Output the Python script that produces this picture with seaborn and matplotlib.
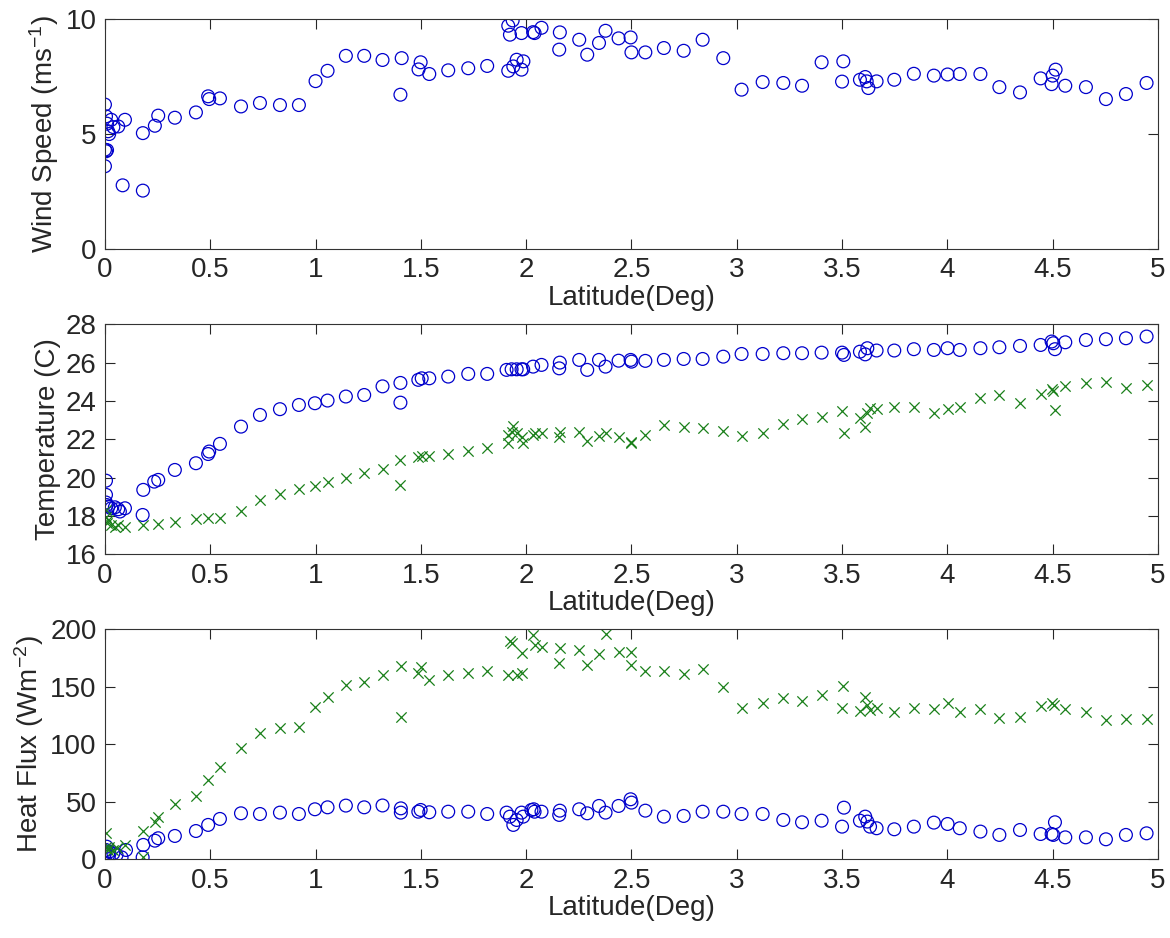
import numpy as np
import seaborn as sns
import matplotlib
matplotlib.use("Agg")
from matplotlib import pyplot as plt

# wind speed (circles)
wind_lat = [0.0, 0.005, 0.01, 0.015, 0.02, 0.03, 0.04, 0.063, 0.095, 0.0, 0.005, 0.01, 0.0,
            0.084, 0.18, 0.18, 0.237, 0.253, 0.332, 0.432, 0.49, 0.495, 0.546, 0.646, 0.736,
            0.831, 0.921, 1.0, 1.057, 1.144, 1.231, 1.318, 1.403, 1.409, 1.499, 1.489, 1.54,
            1.63, 1.725, 1.815, 1.936, 1.915, 1.923, 1.978, 2.033, 2.04, 2.073, 1.955, 1.987,
            1.939, 1.915, 1.978, 2.16, 2.157, 2.252, 2.29, 2.346, 2.377, 2.439, 2.496, 2.5,
            2.566, 2.654, 2.748, 2.838, 2.936, 3.023, 3.123, 3.221, 3.31, 3.403, 3.506, 3.5,
            3.585, 3.61, 3.617, 3.625, 3.664, 3.748, 3.841, 3.936, 4.001, 4.059, 4.157, 4.247,
            4.345, 4.443, 4.514, 4.5, 4.495, 4.56, 4.658, 4.753, 4.848, 4.946]
wind = [6.28, 5.77, 5.45, 5.12, 5.0, 5.62, 5.3, 5.33, 5.62, 4.32, 4.25, 4.3, 3.6,
        2.77, 2.54, 5.04, 5.36, 5.8, 5.71, 5.94, 6.64, 6.52, 6.55, 6.2, 6.35,
        6.26, 6.26, 7.3, 7.75, 8.4, 8.4, 8.22, 6.71, 8.3, 8.12, 7.81, 7.61,
        7.77, 7.86, 7.96, 9.94, 9.71, 9.32, 9.39, 9.43, 9.39, 9.62, 8.23, 8.16,
        7.94, 7.75, 7.8, 9.42, 8.67, 9.1, 8.45, 8.96, 9.49, 9.16, 9.2, 8.55,
        8.55, 8.74, 8.62, 9.1, 8.3, 6.93, 7.26, 7.22, 7.1, 8.12, 8.16, 7.28,
        7.36, 7.48, 7.29, 7.0, 7.29, 7.36, 7.62, 7.54, 7.59, 7.61, 7.61, 7.04,
        6.81, 7.42, 7.8, 7.54, 7.17, 7.1, 7.04, 6.52, 6.74, 7.22]

# temperature (circles)
temp_o_lat = [0.005, 0.005, 0.005, 0.008, 0.016, 0.03, 0.047, 0.063, 0.071, 0.095, 0.179, 0.182,
              0.234, 0.253, 0.332, 0.432, 0.49, 0.495, 0.546, 0.646, 0.736, 0.831, 0.921, 0.997,
              1.057, 1.144, 1.231, 1.318, 1.403, 1.403, 1.488, 1.504, 1.54, 1.63, 1.725, 1.815,
              1.907, 1.931, 1.955, 1.978, 1.986, 2.033, 2.073, 2.16, 2.157, 2.252, 2.29, 2.346,
              2.377, 2.439, 2.496, 2.5, 2.566, 2.654, 2.748, 2.838, 2.936, 3.023, 3.123, 3.221,
              3.31, 3.403, 3.5, 3.509, 3.585, 3.61, 3.62, 3.664, 3.748, 3.841, 3.936, 4.001,
              4.059, 4.157, 4.247, 4.345, 4.443, 4.495, 4.503, 4.511, 4.56, 4.658, 4.753, 4.848,
              4.946]
temp_o = [19.84, 19.1, 18.7, 18.57, 18.49, 18.4, 18.45, 18.35, 18.23, 18.4, 18.05, 19.36,
          19.79, 19.88, 20.4, 20.75, 21.23, 21.36, 21.76, 22.66, 23.27, 23.57, 23.79, 23.88,
          24.02, 24.23, 24.31, 24.76, 24.94, 23.91, 25.1, 25.18, 25.18, 25.27, 25.41, 25.41,
          25.62, 25.65, 25.65, 25.65, 25.65, 25.79, 25.88, 26.0, 25.7, 26.14, 25.62, 26.14,
          25.79, 26.1, 26.14, 26.05, 26.09, 26.14, 26.19, 26.19, 26.31, 26.45, 26.45, 26.49,
          26.49, 26.52, 26.52, 26.4, 26.57, 26.43, 26.75, 26.63, 26.63, 26.7, 26.66, 26.75,
          26.66, 26.75, 26.8, 26.87, 26.92, 27.1, 27.01, 26.7, 27.06, 27.18, 27.22, 27.27,
          27.36]

# temperature (crosses)
temp_x_lat = [0.005, 0.005, 0.008, 0.016, 0.03, 0.047, 0.063, 0.095, 0.179, 0.253, 0.332, 0.432,
              0.49, 0.546, 0.646, 0.736, 0.831, 0.921, 0.997, 1.057, 1.144, 1.231, 1.318, 1.403,
              1.403, 1.488, 1.504, 1.54, 1.63, 1.725, 1.815, 1.939, 1.931, 1.915, 1.955, 1.978,
              1.915, 1.986, 2.033, 2.04, 2.073, 2.16, 2.157, 2.252, 2.29, 2.346, 2.377, 2.439,
              2.496, 2.5, 2.566, 2.654, 2.748, 2.838, 2.936, 3.023, 3.123, 3.221, 3.31, 3.403,
              3.5, 3.509, 3.585, 3.61, 3.617, 3.633, 3.664, 3.748, 3.841, 3.936, 4.001, 4.059,
              4.157, 4.247, 4.345, 4.443, 4.495, 4.503, 4.511, 4.56, 4.658, 4.753, 4.848, 4.946]
temp_x = [18.31, 17.97, 17.62, 17.8, 17.53, 17.44, 17.53, 17.41, 17.53, 17.57, 17.67, 17.84,
          17.88, 17.88, 18.26, 18.83, 19.13, 19.39, 19.58, 19.76, 19.97, 20.23, 20.46, 20.94,
          19.62, 21.1, 21.15, 21.15, 21.23, 21.41, 21.53, 22.7, 22.4, 22.23, 22.35, 22.14,
          21.83, 21.83, 22.23, 22.31, 22.35, 22.4, 22.14, 22.4, 21.91, 22.17, 22.31, 22.14,
          21.88, 21.79, 22.23, 22.75, 22.66, 22.57, 22.45, 22.17, 22.35, 22.78, 23.04, 23.18,
          23.48, 22.31, 23.1, 22.66, 23.36, 23.62, 23.57, 23.7, 23.7, 23.36, 23.57, 23.7,
          24.14, 24.31, 23.88, 24.36, 24.61, 24.52, 23.53, 24.78, 24.92, 25.01, 24.7, 24.83]

# heat flux (circles)
flux_o_lat = [0.0, 0.005, 0.008, 0.016, 0.02, 0.04, 0.055, 0.079, 0.1, 0.179, 0.182, 0.237,
              0.253, 0.332, 0.432, 0.49, 0.546, 0.646, 0.736, 0.831, 0.921, 0.997, 1.057, 1.144,
              1.231, 1.318, 1.405, 1.405, 1.488, 1.499, 1.54, 1.63, 1.725, 1.815, 1.907, 1.923,
              1.939, 1.955, 1.978, 1.986, 2.025, 2.036, 2.04, 2.073, 2.16, 2.157, 2.252, 2.29,
              2.346, 2.377, 2.439, 2.496, 2.5, 2.566, 2.654, 2.748, 2.838, 2.936, 3.023, 3.123,
              3.221, 3.31, 3.403, 3.509, 3.5, 3.585, 3.61, 3.62, 3.633, 3.664, 3.748, 3.841,
              3.936, 4.001, 4.059, 4.157, 4.247, 4.345, 4.443, 4.495, 4.503, 4.511, 4.56, 4.658,
              4.753, 4.848, 4.946]
flux_o = [5.2, 8.1, 11, 3.8, 6.7, 5.2, 3.8, 1.7, 8.1, 1.7, 12.5, 16.2,
          18.3, 20.3, 24.6, 29.9, 35.1, 40, 39.4, 40.6, 39.4, 43.5, 45.2, 46.7,
          45.2, 46.8, 44.3, 40.6, 41.4, 42.9, 40.9, 41.4, 41.4, 39.4, 40.6, 37.1,
          29.9, 34.2, 40.6, 37.1, 42.9, 43.5, 41.4, 41.4, 42.3, 38.6, 43.5, 40,
          46.4, 40.6, 46.4, 52.2, 49.3, 42.3, 37.1, 37.7, 41.4, 41.4, 39.4, 39.4,
          34.2, 32.2, 33.6, 44.9, 28.4, 33.6, 37.1, 32.8, 28.4, 27, 26.1, 28.4,
          31.9, 30.7, 27, 24.1, 21.2, 25.5, 22, 22, 21.2, 32.2, 19.1, 19.1,
          17.4, 21.2, 22.6]

# heat flux (crosses)
flux_x_lat = [0.005, 0.005, 0.016, 0.02, 0.04, 0.055, 0.095, 0.179, 0.182, 0.237, 0.253, 0.332,
              0.432, 0.49, 0.546, 0.646, 0.736, 0.831, 0.921, 0.997, 1.057, 1.144, 1.231, 1.318,
              1.405, 1.405, 1.488, 1.499, 1.54, 1.63, 1.725, 1.815, 1.923, 1.931, 1.978, 1.915,
              1.955, 1.978, 2.033, 2.04, 2.073, 2.16, 2.157, 2.252, 2.29, 2.346, 2.377, 2.439,
              2.496, 2.5, 2.566, 2.654, 2.748, 2.838, 2.936, 3.023, 3.123, 3.221, 3.31, 3.403,
              3.506, 3.5, 3.585, 3.61, 3.62, 3.633, 3.664, 3.748, 3.841, 3.936, 4.001, 4.059,
              4.157, 4.247, 4.345, 4.443, 4.495, 4.506, 4.56, 4.658, 4.753, 4.848, 4.946]
flux_x = [22.6, 11, 8.1, 11, 8.1, 9.6, 12.5, 1.7, 24.9, 32.8, 37.1, 47.8,
          55.1, 69, 80.6, 97.1, 109.6, 114.5, 114.8, 132.8, 141.4, 151.6, 154.5, 160.3,
          168, 123.5, 162.3, 167.5, 155.9, 160.3, 162.3, 164.1, 190.1, 187.8, 179.1, 160.3,
          160.3, 161.7, 195.1, 186.4, 184.9, 183.5, 171, 182, 169, 178.6, 196, 180.6,
          180.6, 169, 164.1, 164.1, 161.2, 165.2, 150.1, 131.3, 136.2, 140, 138, 142.9,
          150.7, 131.3, 129.3, 140.9, 134.2, 129.9, 131.3, 127.8, 131.3, 130.4, 135.7, 127.8,
          130.4, 122.6, 124.1, 133.3, 135.7, 134.2, 130.4, 128.4, 121.2, 122, 122]

x_ticks = [0, 0.5, 1, 1.5, 2, 2.5, 3, 3.5, 4, 4.5, 5]
x_ticklabels = ["0", "0.5", "1", "1.5", "2", "2.5", "3", "3.5", "4", "4.5", "5"]

sns.set_style("ticks", {"xtick.direction": "in", "ytick.direction": "in"})
plt.rcParams["font.family"] = ["Liberation Sans", "DejaVu Sans"]
plt.rcParams["mathtext.fontset"] = "custom"
plt.rcParams["mathtext.rm"] = "Liberation Sans"
plt.rcParams["mathtext.it"] = "Liberation Sans"

fig = plt.figure(figsize=(11.7, 9.38), dpi=100)
boxes = [[0.0897, 0.7345, 0.9, 0.2452],
         [0.0897, 0.4091, 0.9, 0.2452],
         [0.0897, 0.0839, 0.9, 0.2452]]
axes = [fig.add_axes(b) for b in boxes]

blue = (0.0, 0.0, 0.8)
green = (0.1, 0.5, 0.1)
circ = dict(marker="o", s=85, facecolor="none", edgecolor=blue, linewidth=0.9)
cross = dict(marker="x", s=55, color=green, linewidth=0.9)

sns.scatterplot(x=wind_lat, y=wind, ax=axes[0], **circ)
sns.scatterplot(x=temp_o_lat, y=temp_o, ax=axes[1], **circ)
sns.scatterplot(x=temp_x_lat, y=temp_x, ax=axes[1], **cross)
sns.scatterplot(x=flux_o_lat, y=flux_o, ax=axes[2], **circ)
sns.scatterplot(x=flux_x_lat, y=flux_x, ax=axes[2], **cross)

ylims = [(0, 10), (16, 28), (0, 200)]
yticks = [[0, 5, 10], [16, 18, 20, 22, 24, 26, 28], [0, 50, 100, 150, 200]]
ylabels = ["Wind Speed (ms$^{-1}$)", "Temperature (C)", "Heat Flux (Wm$^{-2}$)"]

for ax, yl, yt, lab in zip(axes, ylims, yticks, ylabels):
    ax.set_xlim(0, 5)
    ax.set_ylim(*yl)
    ax.set_xticks(x_ticks)
    ax.set_xticklabels(x_ticklabels)
    ax.set_yticks(yt)
    ax.set_xlabel("Latitude(Deg)", fontsize=20, labelpad=1)
    ax.set_ylabel(lab, fontsize=20, labelpad=3)
    ax.tick_params(axis="both", labelsize=20, length=7, width=0.8,
                   top=True, right=True, direction="in", pad=6)
    for sp in ax.spines.values():
        sp.set_visible(True)
        sp.set_linewidth(0.8)
        sp.set_color("#333333")

fig.savefig("out.png", dpi=100)
